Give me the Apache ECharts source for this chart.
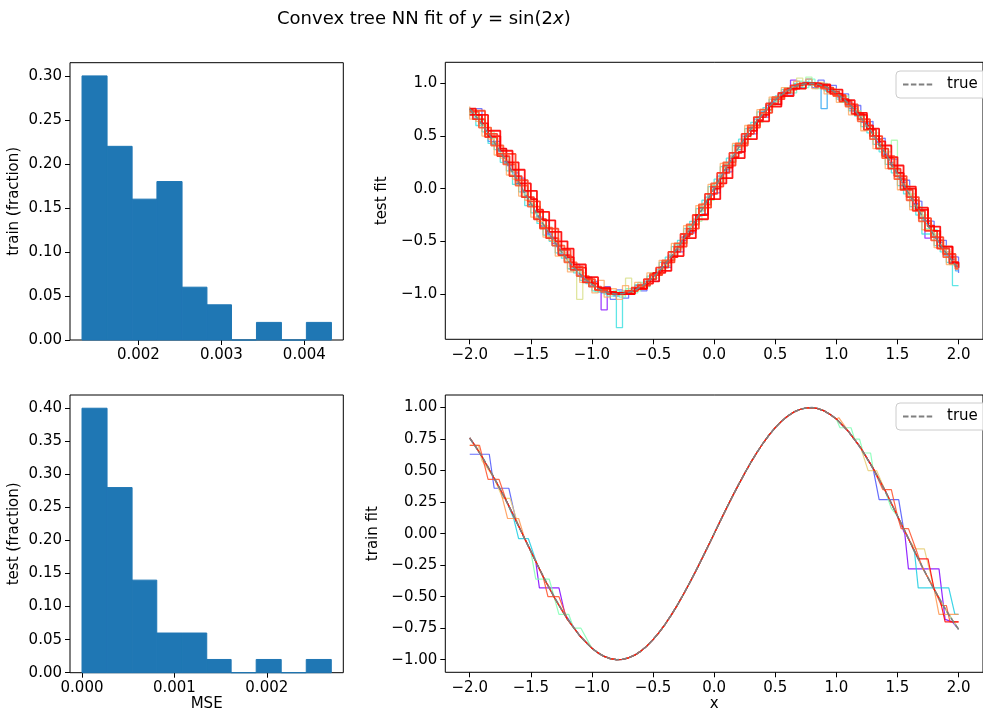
<!DOCTYPE html>
<html>
<head>
<meta charset="utf-8">
<script src="https://cdn.jsdelivr.net/npm/echarts@6/dist/echarts.min.js"></script>
<style>
  html, body { margin: 0; padding: 0; background: #ffffff; }
  #chart { width: 983px; height: 713px; }
</style>
</head>
<body>
<div id="chart"></div>
<script>
// ---- histograms of the per-run MSE (fraction of runs in each bin) ----
const trainMseEdges = [0.00132, 0.001622, 0.001924, 0.002223, 0.002526, 0.002826, 0.003122, 0.003423, 0.003724, 0.004025, 0.004327];
const trainMseFractions = [0.30, 0.22, 0.16, 0.18, 0.06, 0.04, 0.00, 0.02, 0.00, 0.02];
const testMseEdges = [0.0, 0.000271, 0.000542, 0.000809, 0.001083, 0.00135, 0.001614, 0.001885, 0.002156, 0.002427, 0.002698];
const testMseFractions = [0.40, 0.28, 0.14, 0.06, 0.06, 0.02, 0.00, 0.02, 0.00, 0.02];

// ---- tick labels ----
const trainMseTicks = [0.002, 0.003, 0.004];
const testMseTicks = [0.000, 0.001, 0.002];
const trainFracTicks = [0.00, 0.05, 0.10, 0.15, 0.20, 0.25, 0.30];
const testFracTicks = [0.00, 0.05, 0.10, 0.15, 0.20, 0.25, 0.30, 0.35, 0.40];
const xTicks = [-2.0, -1.5, -1.0, -0.5, 0.0, 0.5, 1.0, 1.5, 2.0];
const testFitTicks = [-1.0, -0.5, 0.0, 0.5, 1.0];
const trainFitTicks = [-1.00, -0.75, -0.50, -0.25, 0.00, 0.25, 0.50, 0.75, 1.00];

// ---- sample positions and the target curve ----
const sampleX = [
  -2.00, -1.95, -1.90, -1.85, -1.80, -1.75, -1.70, -1.65, -1.60, -1.55,
  -1.50, -1.45, -1.40, -1.35, -1.30, -1.25, -1.20, -1.15, -1.10, -1.05,
  -1.00, -0.95, -0.90, -0.85, -0.80, -0.75, -0.70, -0.65, -0.60, -0.55,
  -0.50, -0.45, -0.40, -0.35, -0.30, -0.25, -0.20, -0.15, -0.10, -0.05,
  0.00,
  0.05, 0.10, 0.15, 0.20, 0.25, 0.30, 0.35, 0.40, 0.45, 0.50,
  0.55, 0.60, 0.65, 0.70, 0.75, 0.80, 0.85, 0.90, 0.95, 1.00,
  1.05, 1.10, 1.15, 1.20, 1.25, 1.30, 1.35, 1.40, 1.45, 1.50,
  1.55, 1.60, 1.65, 1.70, 1.75, 1.80, 1.85, 1.90, 1.95, 2.00
];
const trueY = [
  0.757, 0.688, 0.612, 0.530, 0.443, 0.351, 0.256, 0.158, 0.058, -0.042,
  -0.141, -0.239, -0.335, -0.427, -0.516, -0.598, -0.675, -0.746, -0.808, -0.863,
  -0.909, -0.946, -0.974, -0.992, -1.000, -0.997, -0.985, -0.964, -0.932, -0.891,
  -0.841, -0.783, -0.717, -0.644, -0.565, -0.479, -0.389, -0.296, -0.199, -0.100,
  0.000,
  0.100, 0.199, 0.296, 0.389, 0.479, 0.565, 0.644, 0.717, 0.783, 0.841,
  0.891, 0.932, 0.964, 0.985, 0.997, 1.000, 0.992, 0.974, 0.946, 0.909,
  0.863, 0.808, 0.746, 0.675, 0.598, 0.516, 0.427, 0.335, 0.239, 0.141,
  0.042, -0.058, -0.158, -0.256, -0.351, -0.443, -0.530, -0.612, -0.688, -0.757
];

// ---- test-set predictions, one array per run, at sampleX ----
const testFit0 = [
  0.72, 0.70, 0.62, 0.55, 0.44, 0.36, 0.26, 0.18, 0.05, -0.03,
  -0.15, -0.22, -0.35, -0.43, -0.52, -0.62, -0.66, -0.74, -0.82, -0.88,
  -0.92, -0.96, -1.15, -0.98, -1.01, -0.99, -0.98, -0.97, -0.92, -0.90,
  -0.83, -0.79, -0.71, -0.65, -0.55, -0.49, -0.38, -0.31, -0.19, -0.11,
  0.01,
  0.09, 0.22, 0.29, 0.40, 0.47, 0.57, 0.63, 0.73, 0.79, 0.84,
  0.90, 0.94, 1.03, 0.98, 1.01, 0.99, 0.98, 0.96, 0.94, 0.92,
  0.85, 0.82, 0.74, 0.69, 0.60, 0.50, 0.44, 0.33, 0.23, 0.15,
  0.03, -0.08, -0.14, -0.27, -0.47, -0.45, -0.54, -0.60, -0.70, -0.74
];
const testFit1 = [
  0.76, 0.76, 0.58, 0.45, 0.45, 0.38, 0.22, 0.15, 0.10, -0.08,
  -0.10, -0.27, -0.30, -0.46, -0.55, -0.58, -0.70, -0.72, -0.84, -0.84,
  -0.88, -0.98, -0.93, -1.05, -0.96, -1.04, -0.97, -0.92, -0.97, -0.86,
  -0.88, -0.74, -0.75, -0.60, -0.60, -0.44, -0.42, -0.26, -0.24, -0.06,
  -0.04,
  0.14, 0.16, 0.34, 0.35, 0.52, 0.52, 0.68, 0.68, 0.82, 0.80,
  0.92, 0.90, 0.99, 0.96, 1.04, 0.96, 1.03, 0.94, 0.98, 0.87,
  0.90, 0.76, 0.79, 0.63, 0.64, 0.47, 0.48, 0.30, 0.28, 0.10,
  0.08, -0.11, -0.12, -0.30, -0.31, -0.47, -0.49, -0.64, -0.65, -0.80
];
const testFit2 = [
  0.75, 0.67, 0.62, 0.52, 0.42, 0.36, 0.24, 0.17, 0.05, -0.02,
  -0.15, -0.23, -0.36, -0.42, -0.54, -0.59, -0.69, -0.74, -0.83, -0.85,
  -0.93, -0.93, -0.99, -0.98, -1.02, -0.98, -1.00, -0.95, -0.94, -0.88,
  -0.86, -0.77, -0.74, -0.63, -0.58, -0.46, -0.41, -0.29, -0.21, -0.08,
  -0.01,
  0.12, 0.18, 0.31, 0.37, 0.50, 0.55, 0.66, 0.70, 0.80, 0.83,
  0.90, 0.92, 0.97, 0.98, 1.01, 0.98, 0.99, 0.76, 0.96, 0.89,
  0.87, 0.79, 0.76, 0.66, 0.62, 0.50, 0.45, 0.32, 0.25, 0.12,
  0.06, -0.07, -0.15, -0.28, -0.33, -0.45, -0.51, -0.63, -0.67, -0.78
];
const testFit3 = [
  0.77, 0.70, 0.60, 0.54, 0.43, 0.37, 0.25, 0.17, 0.04, -0.03,
  -0.16, -0.23, -0.33, -0.44, -0.50, -0.61, -0.66, -0.76, -0.80, -0.87,
  -0.90, -0.97, -0.96, -1.00, -0.99, -1.32, -0.97, -0.97, -0.91, -0.90,
  -0.83, -0.80, -0.70, -0.65, -0.55, -0.49, -0.38, -0.31, -0.19, -0.11,
  0.02,
  0.09, 0.21, 0.29, 0.41, 0.47, 0.57, 0.63, 0.73, 0.77, 0.85,
  0.88, 0.94, 0.95, 1.00, 0.99, 1.01, 0.98, 0.98, 0.93, 0.92,
  0.85, 0.82, 0.74, 0.69, 0.59, 0.53, 0.42, 0.35, 0.23, 0.15,
  0.03, -0.05, -0.17, -0.25, -0.43, -0.43, -0.54, -0.60, -0.70, -0.92
];
const testFit4 = [
  0.71, 0.72, 0.65, 0.50, 0.48, 0.31, 0.30, 0.12, 0.10, -0.08,
  -0.10, -0.28, -0.29, -0.47, -0.49, -0.63, -0.64, -0.78, -0.78, -0.89,
  -0.88, -0.98, -0.95, -1.02, -0.97, -1.03, -0.95, -0.99, -0.89, -0.93,
  -0.80, -0.82, -0.69, -0.67, -0.53, -0.51, -0.36, -0.33, -0.17, -0.13,
  0.03,
  0.07, 0.23, 0.26, 0.42, 0.44, 0.60, 0.61, 0.75, 0.74, 0.87,
  0.86, 0.96, 0.91, 1.02, 0.96, 1.04, 0.95, 1.00, 0.91, 0.94,
  0.82, 0.84, 0.71, 0.72, 0.56, 0.56, 0.39, 0.38, 0.20, 0.18,
  0.00, 0.00, -0.19, -0.22, -0.38, -0.39, -0.56, -0.57, -0.72, -0.72
];
const testFit5 = [
  0.76, 0.68, 0.60, 0.54, 0.43, 0.37, 0.25, 0.17, 0.05, -0.03,
  -0.15, -0.23, -0.35, -0.42, -0.53, -0.61, -0.67, -0.76, -0.80, -0.87,
  -0.90, -0.95, -0.96, -0.99, -1.01, -0.98, -0.99, -0.97, -0.92, -0.88,
  -0.85, -0.77, -0.73, -0.63, -0.57, -0.47, -0.38, -0.31, -0.19, -0.11,
  0.01,
  0.09, 0.21, 0.29, 0.40, 0.47, 0.57, 0.63, 0.71, 0.79, 0.83,
  0.90, 0.92, 0.97, 0.98, 1.06, 0.98, 0.99, 0.96, 0.94, 0.90,
  0.88, 0.80, 0.74, 0.69, 0.59, 0.53, 0.42, 0.35, 0.46, 0.15,
  0.03, -0.05, -0.17, -0.25, -0.36, -0.43, -0.54, -0.60, -0.70, -0.75
];
const testFit6 = [
  0.73, 0.69, 0.61, 0.52, 0.44, 0.34, 0.27, 0.16, 0.06, -0.05,
  -0.14, -0.24, -0.34, -0.45, -0.51, -0.60, -0.69, -0.74, -1.05, -0.86,
  -0.91, -0.96, -0.97, -0.98, -1.00, -1.01, -0.85, -0.96, -0.94, -0.89,
  -0.84, -0.78, -0.72, -0.65, -0.56, -0.48, -0.39, -0.29, -0.20, -0.10,
  0.00,
  0.10, 0.20, 0.30, 0.39, 0.48, 0.56, 0.64, 0.72, 0.80, 0.84,
  0.89, 0.93, 0.96, 1.05, 1.00, 1.00, 0.99, 0.97, 0.95, 0.91,
  0.86, 0.81, 0.75, 0.68, 0.60, 0.52, 0.43, 0.34, 0.24, 0.14,
  0.04, -0.06, -0.16, -0.26, -0.35, -0.44, -0.53, -0.61, -0.69, -0.76
];
const testFit7 = [
  0.78, 0.66, 0.64, 0.50, 0.47, 0.32, 0.29, 0.13, 0.09, -0.07,
  -0.11, -0.27, -0.31, -0.46, -0.49, -0.64, -0.65, -0.79, -0.77, -0.89,
  -0.87, -0.99, -0.87, -1.03, -0.95, -1.05, -0.92, -1.00, -0.89, -0.93,
  -0.80, -0.82, -0.68, -0.68, -0.52, -0.52, -0.35, -0.34, -0.16, -0.14,
  0.04,
  0.06, 0.24, 0.25, 0.43, 0.43, 0.60, 0.61, 0.75, 0.75, 0.87,
  0.86, 0.96, 0.91, 1.02, 0.95, 1.04, 0.95, 1.01, 0.90, 0.95,
  0.82, 0.85, 0.70, 0.73, 0.55, 0.57, 0.38, 0.40, 0.19, 0.21,
  -0.01, 0.02, -0.20, -0.21, -0.39, -0.39, -0.56, -0.58, -0.72, -0.73
];
const testFit8 = [
  0.73, 0.73, 0.58, 0.58, 0.41, 0.41, 0.23, 0.23, 0.03, 0.03,
  -0.17, -0.17, -0.37, -0.37, -0.54, -0.54, -0.70, -0.70, -0.83, -0.83,
  -0.93, -0.93, -0.98, -0.98, -1.00, -1.00, -0.97, -0.97, -0.91, -0.91,
  -0.81, -0.81, -0.68, -0.68, -0.52, -0.52, -0.34, -0.34, -0.15, -0.15,
  0.05,
  0.05, 0.25, 0.25, 0.43, 0.43, 0.60, 0.60, 0.75, 0.75, 0.87,
  0.87, 0.95, 0.95, 0.99, 0.99, 0.99, 0.99, 0.95, 0.95, 0.88,
  0.88, 0.78, 0.78, 0.64, 0.64, 0.47, 0.47, 0.29, 0.29, 0.09,
  0.09, -0.11, -0.11, -0.31, -0.31, -0.49, -0.49, -0.65, -0.65, -0.76
];
const testFit9 = [
  0.75,
  0.66, 0.66, 0.49, 0.49, 0.31, 0.31, 0.12, 0.12, -0.08, -0.08,
  -0.29, -0.29, -0.47, -0.47, -0.63, -0.63, -0.77, -0.77, -0.89, -0.89,
  -0.96, -0.96, -1.00, -1.00, -0.99, -0.99, -0.94, -0.94, -0.86, -0.86,
  -0.75, -0.75, -0.60, -0.60, -0.43, -0.43, -0.25, -0.25, -0.05, -0.05,
  0.15, 0.15, 0.34, 0.34, 0.52, 0.52, 0.68, 0.68, 0.81, 0.81,
  0.91, 0.91, 0.98, 0.98, 1.00, 1.00, 0.97, 0.97, 0.92, 0.92,
  0.83, 0.83, 0.71, 0.71, 0.56, 0.56, 0.38, 0.38, 0.19, 0.19,
  -0.01, -0.01, -0.21, -0.21, -0.40, -0.40, -0.57, -0.57, -0.71, -0.71
];
const testFit10 = [
  0.70, 0.70, 0.62, 0.50, 0.50, 0.38, 0.25, 0.25, 0.05, 0.05,
  -0.10, -0.20, -0.30, -0.30, -0.50, -0.50, -0.65, -0.75, -0.75, -0.85,
  -0.90, -0.95, -0.95, -0.98, -1.00, -1.00, -1.00, -0.95, -0.95, -0.90,
  -0.80, -0.80, -0.70, -0.65, -0.55, -0.45, -0.40, -0.25, -0.25, -0.10,
  0.00,
  0.05, 0.20, 0.30, 0.35, 0.50, 0.55, 0.65, 0.70, 0.80, 0.80,
  0.90, 0.95, 0.95, 1.00, 1.00, 1.00, 0.98, 0.98, 0.90, 0.90,
  0.85, 0.80, 0.70, 0.70, 0.60, 0.50, 0.45, 0.30, 0.30, 0.15,
  0.00, 0.00, -0.20, -0.20, -0.35, -0.40, -0.55, -0.55, -0.70, -0.75
];
const testFit11 = [
  0.74, 0.74, 0.74, 0.52, 0.52, 0.33, 0.33, 0.33, 0.08, 0.08,
  -0.12, -0.12, -0.38, -0.38, -0.38, -0.58, -0.58, -0.74, -0.74, -0.86,
  -0.86, -0.96, -0.96, -0.99, -0.99, -0.99, -0.97, -0.97, -0.92, -0.92,
  -0.82, -0.82, -0.70, -0.70, -0.55, -0.55, -0.38, -0.38, -0.18, -0.18,
  0.02,
  0.02, 0.22, 0.22, 0.41, 0.41, 0.58, 0.58, 0.72, 0.72, 0.85,
  0.85, 0.94, 0.94, 0.99, 0.99, 1.00, 1.00, 0.96, 0.96, 0.89,
  0.89, 0.80, 0.80, 0.66, 0.66, 0.50, 0.50, 0.31, 0.31, 0.12,
  0.12, -0.08, -0.08, -0.28, -0.28, -0.46, -0.46, -0.62, -0.62, -0.74
];
const testFit12 = [
  0.76, 0.70, 0.70, 0.55, 0.55, 0.36, 0.36, 0.18, 0.18, -0.02,
  -0.02, -0.22, -0.22, -0.41, -0.41, -0.57, -0.57, -0.72, -0.72, -0.84,
  -0.84, -0.94, -0.94, -0.99, -0.99, -1.00, -1.00, -0.95, -0.95, -0.88,
  -0.88, -0.78, -0.78, -0.64, -0.64, -0.47, -0.47, -0.29, -0.29, -0.10,
  -0.10,
  0.10, 0.10, 0.29, 0.29, 0.47, 0.47, 0.64, 0.64, 0.78, 0.78,
  0.88, 0.88, 0.95, 0.95, 1.00, 1.00, 0.99, 0.99, 0.94, 0.94,
  0.84, 0.84, 0.72, 0.72, 0.57, 0.57, 0.41, 0.41, 0.22, 0.22,
  0.02, 0.02, -0.18, -0.18, -0.36, -0.36, -0.55, -0.55, -0.70, -0.70
];
const testFits = [testFit0, testFit1, testFit2, testFit3, testFit4, testFit5, testFit6,
                  testFit7, testFit8, testFit9, testFit10, testFit11, testFit12];

// ---- training-set predictions: they sit on the curve except near the ends ----
const trainFit0Left = [[-2.0, 0.76], [-1.9, 0.61], [-1.8, 0.44], [-1.7, 0.26], [-1.6, 0.06], [-1.5, -0.14], [-1.46, -0.22], [-1.43, -0.43], [-1.27, -0.43], [-1.22, -0.64], [-1.1, -0.81], [-1.0, -0.91]];
const trainFit0Right = [[1.0, 0.91], [1.1, 0.81], [1.2, 0.68], [1.3, 0.52], [1.4, 0.34], [1.5, 0.14], [1.56, 0.0], [1.59, -0.28], [1.84, -0.28], [1.89, -0.68], [1.95, -0.70], [2.0, -0.76]];
const trainFit1Left = [[-2.0, 0.63], [-1.84, 0.63], [-1.80, 0.36], [-1.68, 0.36], [-1.62, 0.10], [-1.6, 0.06], [-1.5, -0.14], [-1.4, -0.34], [-1.3, -0.52], [-1.2, -0.68], [-1.1, -0.81], [-1.0, -0.91]];
const trainFit1Right = [[1.0, 0.91], [1.1, 0.81], [1.2, 0.68], [1.3, 0.52], [1.35, 0.27], [1.51, 0.27], [1.55, 0.04], [1.6, -0.06], [1.7, -0.26], [1.8, -0.44], [1.9, -0.61], [2.0, -0.76]];
const trainFit2Left = [[-2.0, 0.76], [-1.9, 0.61], [-1.8, 0.44], [-1.7, 0.26], [-1.64, 0.12], [-1.60, -0.04], [-1.52, -0.04], [-1.45, -0.24], [-1.4, -0.34], [-1.3, -0.52], [-1.2, -0.68], [-1.1, -0.81], [-1.0, -0.91]];
const trainFit2Right = [[1.0, 0.91], [1.1, 0.81], [1.2, 0.68], [1.3, 0.52], [1.4, 0.34], [1.5, 0.14], [1.6, -0.06], [1.64, -0.15], [1.67, -0.43], [1.92, -0.43], [1.97, -0.64], [2.0, -0.64]];
const trainFit3Left = [[-2.0, 0.76], [-1.9, 0.61], [-1.8, 0.44], [-1.7, 0.26], [-1.6, 0.06], [-1.5, -0.14], [-1.46, -0.36], [-1.35, -0.36], [-1.27, -0.64], [-1.19, -0.64], [-1.15, -0.75], [-1.09, -0.75], [-1.0, -0.91]];
const trainFit3Right = [[1.0, 0.91], [1.03, 0.84], [1.12, 0.84], [1.15, 0.75], [1.19, 0.75], [1.22, 0.64], [1.28, 0.64], [1.3, 0.52], [1.4, 0.34], [1.45, 0.20], [1.5, 0.14], [1.6, -0.06], [1.7, -0.26], [1.8, -0.44], [1.9, -0.61], [2.0, -0.76]];
const trainFit4Left = [[-2.0, 0.70], [-1.93, 0.70], [-1.9, 0.58], [-1.8, 0.44], [-1.73, 0.28], [-1.67, 0.28], [-1.6, 0.06], [-1.5, -0.14], [-1.4, -0.34], [-1.3, -0.52], [-1.2, -0.68], [-1.1, -0.81], [-1.0, -0.91]];
const trainFit4Right = [[1.0, 0.91], [1.1, 0.81], [1.2, 0.68], [1.26, 0.50], [1.33, 0.50], [1.4, 0.34], [1.5, 0.14], [1.6, -0.06], [1.65, -0.12], [1.72, -0.12], [1.8, -0.44], [1.9, -0.61], [2.0, -0.76]];
const trainFit5Left = [[-2.0, 0.76], [-1.9, 0.61], [-1.8, 0.44], [-1.75, 0.35], [-1.69, 0.12], [-1.60, 0.12], [-1.55, -0.04], [-1.5, -0.14], [-1.4, -0.34], [-1.3, -0.52], [-1.2, -0.68], [-1.1, -0.81], [-1.0, -0.91]];
const trainFit5Right = [[1.0, 0.91], [1.02, 0.92], [1.1, 0.81], [1.2, 0.68], [1.3, 0.52], [1.4, 0.34], [1.5, 0.14], [1.6, -0.06], [1.7, -0.26], [1.8, -0.44], [1.84, -0.64], [2.0, -0.64]];
const trainFit6Left = [[-2.0, 0.70], [-1.92, 0.70], [-1.85, 0.43], [-1.76, 0.43], [-1.7, 0.26], [-1.6, 0.06], [-1.5, -0.14], [-1.4, -0.34], [-1.36, -0.50], [-1.27, -0.50], [-1.2, -0.68], [-1.1, -0.81], [-1.0, -0.91]];
const trainFit6Right = [[1.0, 0.91], [1.1, 0.81], [1.2, 0.68], [1.3, 0.52], [1.38, 0.35], [1.45, 0.35], [1.5, 0.14], [1.53, 0.04], [1.59, 0.04], [1.65, -0.12], [1.7, -0.26], [1.8, -0.44], [1.86, -0.57], [1.9, -0.57], [1.93, -0.70], [2.0, -0.70]];
const trainFit7Left = [[-2.0, 0.76], [-1.95, 0.69], [-1.9, 0.61], [-1.8, 0.44], [-1.7, 0.26], [-1.6, 0.06], [-1.5, -0.14], [-1.4, -0.34], [-1.3, -0.52], [-1.2, -0.68], [-1.1, -0.81], [-1.0, -0.91]];
const trainFit7Right = [[1.0, 0.91], [1.1, 0.81], [1.2, 0.68], [1.3, 0.52], [1.4, 0.34], [1.5, 0.14], [1.55, 0.04], [1.6, -0.06], [1.67, -0.20], [1.75, -0.20], [1.8, -0.44], [1.85, -0.53], [1.89, -0.70], [2.0, -0.70]];
const trainFitEnds = [
  [trainFit0Left, trainFit0Right], [trainFit1Left, trainFit1Right],
  [trainFit2Left, trainFit2Right], [trainFit3Left, trainFit3Right],
  [trainFit4Left, trainFit4Right], [trainFit5Left, trainFit5Right],
  [trainFit6Left, trainFit6Right], [trainFit7Left, trainFit7Right]
];

// ---- styling ----
const FONT = 'DejaVu Sans';
const HIST_COLOR = '#1f77b4';
const TRUE_COLOR = '#7f7f7f';
// colours along a purple -> red rainbow, one per run
const testColors = ['#8000ff', '#4a53fb', '#1c9df0', '#2adddd', '#61fac4', '#9efaa2', '#d6dd80',
                    '#ffa256', '#ff562c', '#ff2814', '#ff0000', '#ff3a1d', '#ff0000'];
const testSteps = ['middle', 'end', 'middle', 'start', 'middle', 'end', 'middle',
                   'start', 'middle', 'middle', 'end', 'middle', 'end'];
const trainColors = ['#8000ff', '#4a53fb', '#1acee3', '#80ffb4', '#e6ce74', '#ff964f', '#ff4f28', '#ff0000'];

const minus = s => s.replace('-', '\u2212');
const fmt = d => v => minus(Number(v).toFixed(d));

function valueAxis(gridIndex, min, max, ticks, decimals, extra) {
  return Object.assign({
    type: 'value', gridIndex, min, max,
    axisLine: { show: false, onZero: false },
    splitLine: { show: false },
    axisTick: { show: true, length: 5, lineStyle: { color: '#000', width: 1 }, customValues: ticks },
    axisLabel: { customValues: ticks, formatter: fmt(decimals), color: '#000',
                 fontFamily: FONT, fontSize: 15, margin: 8 },
    nameTextStyle: { color: '#000', fontFamily: FONT, fontSize: 15 },
    nameLocation: 'middle'
  }, extra || {});
}

function histSeries(edges, fractions, axisIndex) {
  return {
    type: 'custom', xAxisIndex: axisIndex, yAxisIndex: axisIndex,
    data: fractions.map((f, i) => [edges[i], edges[i + 1], f]),
    encode: { x: [0, 1], y: 2 },
    renderItem: (params, api) => {
      const top = api.coord([api.value(0), api.value(2)]);
      const base = api.coord([api.value(1), 0]);
      return { type: 'rect',
               shape: { x: top[0], y: top[1], width: base[0] - top[0], height: base[1] - top[1] },
               style: { fill: HIST_COLOR, stroke: HIST_COLOR, lineWidth: 1 } };
    }
  };
}

const series = [];
series.push(histSeries(trainMseEdges, trainMseFractions, 0));
series.push(histSeries(testMseEdges, testMseFractions, 1));

testFits.forEach((ys, k) => {
  const red = k >= 8;
  series.push({
    type: 'line', xAxisIndex: 2, yAxisIndex: 2, symbol: 'none', step: testSteps[k],
    data: ys.map((y, i) => [sampleX[i], y]),
    lineStyle: { color: testColors[k], width: red ? 1.8 : 1.3, opacity: red ? 0.9 : 0.75 },
    silent: true, z: 2
  });
});
series.push({
  name: 'true', type: 'line', xAxisIndex: 2, yAxisIndex: 2, symbol: 'none',
  data: trueY.map((y, i) => [sampleX[i], y]),
  lineStyle: { color: TRUE_COLOR, width: 1.5, type: [5.5, 2.4] },
  itemStyle: { color: TRUE_COLOR }, silent: true, z: 3
});

trainFitEnds.forEach(([left, right], k) => {
  const x0 = left[left.length - 1][0], x1 = right[0][0];
  const mid = sampleX.map((x, i) => [x, trueY[i]]).filter(p => p[0] > x0 + 1e-9 && p[0] < x1 - 1e-9);
  series.push({
    type: 'line', xAxisIndex: 3, yAxisIndex: 3, symbol: 'none',
    data: left.concat(mid, right),
    lineStyle: { color: trainColors[k], width: 1.2, opacity: 0.85 },
    silent: true, z: 2
  });
});
series.push({
  name: 'true', type: 'line', xAxisIndex: 3, yAxisIndex: 3, symbol: 'none',
  data: trueY.map((y, i) => [sampleX[i], y]),
  lineStyle: { color: TRUE_COLOR, width: 1.5, type: [5.5, 2.4] },
  itemStyle: { color: TRUE_COLOR }, silent: true, z: 3
});

const legendBase = {
  data: ['true'], orient: 'vertical', left: 896,
  itemWidth: 31, itemHeight: 14,
  padding: [6, 14, 6, 6],
  backgroundColor: 'rgba(255,255,255,0.8)', borderColor: '#cccccc', borderWidth: 1, borderRadius: 4,
  textStyle: { color: '#000', fontFamily: FONT, fontSize: 15, padding: [0, 0, 0, 8] },
  itemStyle: { opacity: 0 },
  selectedMode: false
};

const option = {
  animation: false,
  backgroundColor: '#ffffff',
  title: {
    text: '{n|Convex tree NN fit of }{i|y}{n| = sin(2}{i|x}{n|)}',
    left: 272, top: 5,
    textStyle: { fontWeight: 'normal', rich: {
      n: { fontFamily: FONT, fontSize: 18, fontWeight: 'normal', color: '#000' },
      i: { fontFamily: FONT, fontSize: 18, fontWeight: 'normal', fontStyle: 'italic', color: '#000' }
    } }
  },
  legend: [Object.assign({ top: 71 }, legendBase), Object.assign({ top: 403 }, legendBase)],
  grid: [
    { left: 70, top: 62.7, width: 273.3, height: 277.3, show: true, borderColor: '#000', borderWidth: 1, containLabel: false },
    { left: 70, top: 395, width: 273.3, height: 277.7, show: true, borderColor: '#000', borderWidth: 1, containLabel: false },
    { left: 445.3, top: 62.3, width: 546, height: 277, show: true, borderColor: '#000', borderWidth: 1, containLabel: false },
    { left: 445.3, top: 395, width: 546, height: 277.3, show: true, borderColor: '#000', borderWidth: 1, containLabel: false }
  ],
  xAxis: [
    valueAxis(0, 0.001175, 0.00447, trainMseTicks, 3),
    valueAxis(1, -0.00013, 0.002828, testMseTicks, 3, { name: 'MSE', nameGap: 24 }),
    valueAxis(2, -2.2, 2.2, xTicks, 1),
    valueAxis(3, -2.2, 2.2, xTicks, 1, { name: 'x', nameGap: 24 })
  ],
  yAxis: [
    valueAxis(0, 0, 0.315, trainFracTicks, 2, { name: 'train (fraction)', nameGap: 48 }),
    valueAxis(1, 0, 0.42, testFracTicks, 2, { name: 'test (fraction)', nameGap: 48 }),
    valueAxis(2, -1.43, 1.2, testFitTicks, 1, { name: 'test fit', nameGap: 50 }),
    valueAxis(3, -1.1, 1.1, trainFitTicks, 2, { name: 'train fit', nameGap: 59 })
  ],
  series
};

const chart = echarts.init(document.getElementById('chart'), null, { renderer: 'canvas' });
chart.setOption(option);
</script>
</body>
</html>
